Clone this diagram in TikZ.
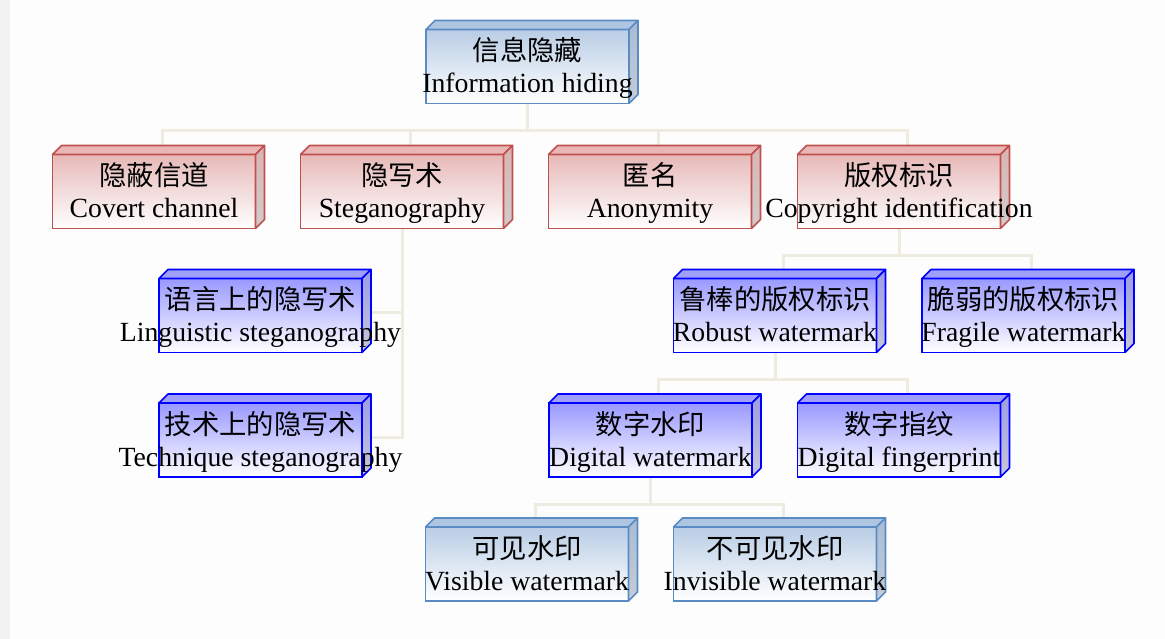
\documentclass[tikz,border=0pt]{standalone}
\usepackage{fontspec}
\setmainfont{Liberation Serif}
\newfontfamily\cjk{Noto Sans CJK SC}
\usetikzlibrary{backgrounds}
\definecolor{pageC}{HTML}{FDFDFD}
\definecolor{stripC}{HTML}{F1F2F4}
\definecolor{connC}{HTML}{EEECE1}
\definecolor{steelB}{HTML}{5B8BC5}
\definecolor{steelT}{HTML}{B9CDE5}
\definecolor{steelTop}{HTML}{AFC6E2}
\definecolor{steelSideT}{HTML}{A9BCD4}
\definecolor{steelSideB}{HTML}{C4CCD6}
\definecolor{redB}{HTML}{C0504D}
\definecolor{redT}{HTML}{E6B9B8}
\definecolor{redTop}{HTML}{E9B7B6}
\definecolor{redSideT}{HTML}{D9B4B3}
\definecolor{redSideB}{HTML}{D2CCCC}
\definecolor{blueB}{HTML}{0000FF}
\definecolor{blueT}{HTML}{9999FF}
\definecolor{blueTop}{HTML}{A0A0FA}
\definecolor{blueSideT}{HTML}{9C9CE6}
\definecolor{blueSideB}{HTML}{C8C8D6}
\tikzset{
  cubebase/.style={shape=rectangle, minimum width=152.25pt, minimum height=55.5pt,
    inner sep=0pt, outer sep=0pt, line width=1.15pt},
  steelbox/.style={cubebase, draw=steelB, top color=steelT, bottom color=white},
  redbox/.style={cubebase, draw=redB, top color=redT, bottom color=white},
  bluebox/.style={cubebase, draw=blueB, top color=blueT, bottom color=white},
  cnlab/.style={inner sep=0pt, anchor=base, font=\cjk\fontsize{20.5}{24}\selectfont},
  enlab/.style={inner sep=0pt, anchor=base, font=\fontsize{20.8}{24}\selectfont},
  conn/.style={draw=connC, line width=2.25pt},
}
\newcommand{\cubebox}[6]{%
  \node[#2box] (#1) at (#3,#4) {};
  \path[draw=#2B, fill=#2Top, line width=1.15pt, line join=round]
    (#1.north west) -- ++(9,-9) -- ([shift={(9,-9)}]#1.north east) -- (#1.north east) -- cycle;
  \path[draw=#2B, top color=#2SideT, bottom color=#2SideB, line width=1.15pt, line join=round]
    (#1.north east) -- ++(9,-9) -- ([shift={(9,-9)}]#1.south east) -- (#1.south east) -- cycle;
  \node[cnlab] (#1-cn) at ([shift={(0,-6)}]#1.center) {#5};
  \node[enlab] (#1-en) at ([shift={(0,26)}]#1.center) {#6};
}
\begin{document}
\begin{tikzpicture}[x=0.75pt,y=-0.75pt]
\useasboundingbox (0,0) rectangle (1165,639);
\cubebox{top}{steel}{527.5}{66.5}{信息隐藏}{Information hiding}
\cubebox{cc}{red}{154}{191.5}{隐蔽信道}{Covert channel}
\cubebox{steg}{red}{402}{191.5}{隐写术}{Steganography}
\cubebox{anon}{red}{650}{191.5}{匿名}{Anonymity}
\cubebox{copy}{red}{899}{191.5}{版权标识}{Copyright identification}
\cubebox{ling}{blue}{260.5}{315.5}{语言上的隐写术}{Linguistic steganography}
\cubebox{tech}{blue}{260.5}{440}{技术上的隐写术}{Technique steganography}
\cubebox{robust}{blue}{775}{315.5}{鲁棒的版权标识}{Robust watermark}
\cubebox{fragile}{blue}{1023.5}{315.5}{脆弱的版权标识}{Fragile watermark}
\cubebox{dw}{blue}{650.5}{440}{数字水印}{Digital watermark}
\cubebox{df}{blue}{899}{440}{数字指纹}{Digital fingerprint}
\cubebox{vis}{steel}{527}{564}{可见水印}{Visible watermark}
\cubebox{invis}{steel}{775}{564}{不可见水印}{Invisible watermark}
\begin{pgfonlayer}{background}
  \fill[pageC] (0,0) rectangle (1165,639);
  \fill[stripC] (0,0) rectangle (10,639);
  \foreach \c in {cc,steg,anon,copy}
    \draw[conn] (top.south) -- ++(0,27) -| ([shift={(8,0)}]\c.north);
  \foreach \c in {robust,fragile}
    \draw[conn] (copy.south) -- ++(0,27) -| ([shift={(8,0)}]\c.north);
  \foreach \c in {dw,df}
    \draw[conn] (robust.south) -- ++(0,27) -| ([shift={(8,0)}]\c.north);
  \foreach \c in {vis,invis}
    \draw[conn] (dw.south) -- ++(0,27) -| ([shift={(8,0)}]\c.north);
  \draw[conn] ([shift={(0,-3)}]ling.east) -| (steg.south);
  \draw[conn] ([shift={(0,-3)}]tech.east) -| (steg.south);
\end{pgfonlayer}
\end{tikzpicture}
\end{document}
